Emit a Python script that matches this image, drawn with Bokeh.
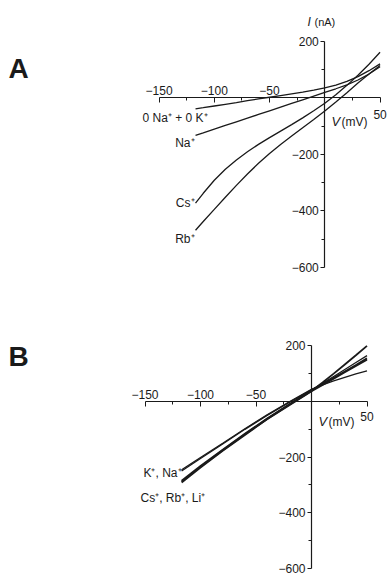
from bokeh.plotting import figure
from bokeh.models import LinearAxis, FixedTicker, Range1d, Label
from bokeh.layouts import column
from bokeh.embed import file_html
from bokeh.resources import INLINE

# ---------------- data ----------------
# Panel A
V_A = [-117, -110, -100, -90, -80, -70, -60, -50, -40, -30, -20, -10, 0, 10, 20, 30, 40, 50]
I_A_0Na0K = [-39, -35, -29, -23, -17, -10, -4, 2, 8, 14, 20, 27, 35, 45, 58, 75, 96, 120]
I_A_Na = [-133, -124, -111, -98, -85, -72, -59, -46, -33, -20, -7, 6, 19, 32, 46, 63, 84, 110]
I_A_Cs = [-373, -338, -292, -253, -220, -191, -165, -141, -118, -95, -71, -46, -19, 11, 44, 80, 119, 161]
I_A_Rb = [-469, -438, -395, -352, -310, -270, -232, -197, -165, -135, -106, -77, -47, -15, 18, 52, 84, 114]
labels_A = ["0 Na\u207a + 0 K\u207a", "Na\u207a", "Cs\u207a", "Rb\u207a"]

# Panel B
V_B = [-117, -100, -80, -60, -40, -20, 0, 10, 20, 30, 40, 50]
I_B_K = [-250, -205, -153, -100, -50, -3, 42, 65, 90, 115, 140, 165]
I_B_Na = [-245, -201, -150, -98, -48, -1, 44, 60, 74, 87, 99, 110]
I_B_Cs = [-288, -235, -175, -118, -63, -12, 38, 68, 100, 133, 166, 200]
I_B_Rb = [-285, -232, -173, -116, -61, -10, 40, 62, 85, 108, 131, 155]
I_B_Li = [-291, -237, -177, -120, -64, -13, 37, 59, 82, 105, 128, 150]
labels_B = ["K\u207a, Na\u207a", "Cs\u207a, Rb\u207a, Li\u207a"]

# axes ticks
x_ticks = [-150, -100, -50, 0, 50]
x_minor = [-125, -75, -25, 25]
y_ticks = [-600, -400, -200, 0, 200]
y_minor = [-500, -300, -100, 100]

FONT = "Liberation Sans"
INK = "#1a1a1a"
W = 388


def make_fig(zero_px, sx, zero_py, sy, top, h):
    # page pixel mapping -> ranges
    xs = -zero_px / sx
    xe = xs + W / sx
    ye = (zero_py - top) / sy
    ys = ye - h / sy
    p = figure(width=W, height=h, x_range=Range1d(xs, xe), y_range=Range1d(ys, ye),
               x_axis_type=None, y_axis_type=None, output_backend="svg",
               toolbar_location=None, min_border=0, title=None)
    p.outline_line_color = None
    p.background_fill_color = "white"
    p.border_fill_color = "white"

    def to_data(px, py):
        return xs + px / sx, ye - (py - top) / sy

    # main axes crossing at origin
    xa = LinearAxis(fixed_location=0, bounds=(x_ticks[0], x_ticks[-1]),
                    ticker=FixedTicker(ticks=x_ticks, minor_ticks=x_minor),
                    major_label_overrides={0: "", 50: ""})
    xa.major_tick_in = 5
    xa.major_tick_out = 0
    xa.minor_tick_in = 3
    xa.minor_tick_out = 0
    xa.major_label_standoff = 3
    ya = LinearAxis(fixed_location=0, bounds=(y_ticks[0], y_ticks[-1]),
                    ticker=FixedTicker(ticks=y_ticks, minor_ticks=y_minor),
                    major_label_overrides={0: ""})
    ya.major_tick_in = 0
    ya.major_tick_out = 4
    ya.minor_tick_in = 0
    ya.minor_tick_out = 3
    ya.major_label_standoff = 2
    for a in (xa, ya):
        a.axis_line_color = INK
        a.axis_line_width = 1.2
        a.major_tick_line_color = INK
        a.minor_tick_line_color = INK
        a.major_label_text_font = FONT
        a.major_label_text_font_size = "12px"
        a.major_label_text_color = INK
    p.add_layout(xa, "above")
    p.add_layout(ya, "left")
    return p, to_data


def end_label_axis(p, standoff):
    xb = LinearAxis(fixed_location=0, ticker=FixedTicker(ticks=[x_ticks[-1]], minor_ticks=[]))
    xb.axis_line_color = None
    xb.major_tick_line_color = None
    xb.minor_tick_line_color = None
    xb.major_tick_out = 0
    xb.major_tick_in = 0
    xb.major_label_standoff = standoff
    xb.major_label_text_font = FONT
    xb.major_label_text_font_size = "12px"
    xb.major_label_text_color = INK
    p.add_layout(xb, "below")


def add_text(p, to_data, px, py, text, size="12px", align="left", baseline="middle",
             style="normal"):
    x, y = to_data(px, py)
    p.add_layout(Label(x=x, y=y, text=text, text_font=FONT, text_font_size=size,
                       text_align=align, text_baseline=baseline, text_color=INK,
                       text_font_style=style))


# ---------------- Panel A ----------------
topA, hA = 0, 290
pA, tdA = make_fig(324.3, 1.105, 97.3, 0.2825, topA, hA)
end_label_axis(pA, 12)
for ys in (I_A_0Na0K, I_A_Na, I_A_Cs, I_A_Rb):
    pA.line(V_A, ys, line_color=INK, line_width=1.3)

add_text(pA, tdA, 142, 117, labels_A[0])
add_text(pA, tdA, 194, 142, labels_A[1], align="right")
add_text(pA, tdA, 194, 202, labels_A[2], align="right")
add_text(pA, tdA, 194, 238, labels_A[3], align="right")
add_text(pA, tdA, 307, 21, "I", size="12px", style="italic")
add_text(pA, tdA, 314, 21, "(nA)", size="11px")
add_text(pA, tdA, 331, 121, "V", size="13px", style="italic")
add_text(pA, tdA, 341, 121, "(mV)", size="12px")
add_text(pA, tdA, 8, 68, "A", size="28px", style="bold")

# ---------------- Panel B ----------------
topB, hB = 290, 285
pB, tdB = make_fig(311, 1.11, 401, 0.2783, topB, hB)
end_label_axis(pB, 10)
pB.line(V_B, I_B_K, line_color=INK, line_width=1.3)
pB.line(V_B, I_B_Na, line_color=INK, line_width=1.3)
for ys in (I_B_Cs, I_B_Rb, I_B_Li):
    pB.line(V_B, ys, line_color=INK, line_width=1.8)

add_text(pB, tdB, 181, 472, labels_B[0], align="right")
add_text(pB, tdB, 140, 497, labels_B[1])
add_text(pB, tdB, 318, 421, "V", size="13px", style="italic")
add_text(pB, tdB, 328, 421, "(mV)", size="12px")
add_text(pB, tdB, 8, 356, "B", size="28px", style="bold")

layout = column(pA, pB, spacing=0)
open("out.html", "w").write(file_html(layout, INLINE))
